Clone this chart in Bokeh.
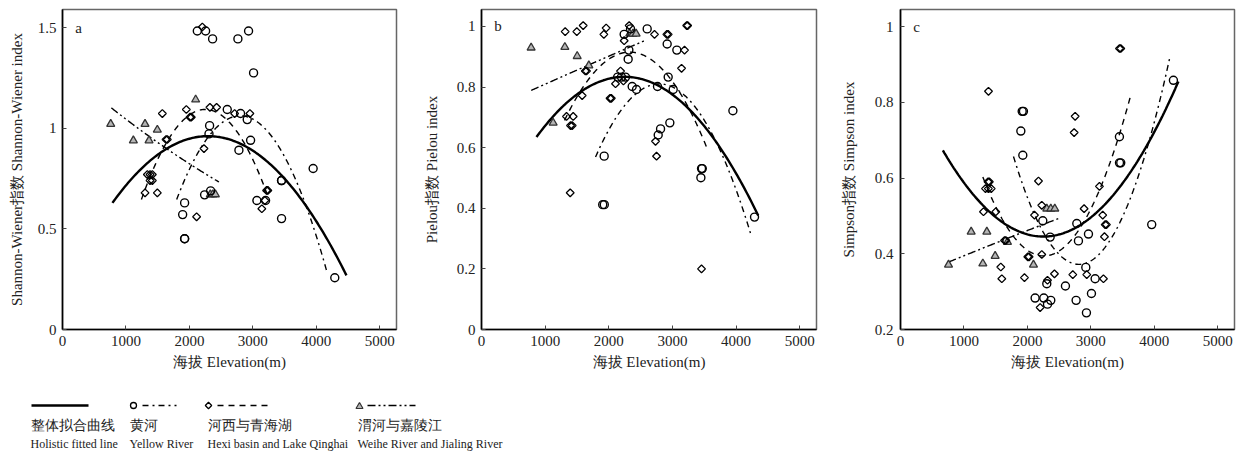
import numpy as np
from bokeh.plotting import figure
from bokeh.models import Range1d, FixedTicker, NumeralTickFormatter
from bokeh.layouts import column, row
from bokeh.embed import file_html
from bokeh.resources import INLINE
from bokeh.core.properties import value

FONT = "Liberation Serif"

# ---------------- data: panel a (Shannon-Wiener) ----------------
a_yellow_x = [2125, 2256, 2366, 2765, 2933, 3012, 2597, 2807, 2912, 2319, 2309, 2965, 2781,
              3453, 3453, 3951, 1925, 1894, 1925, 1925, 2240, 2335, 3064, 3201, 3453, 4292]
a_yellow_y = [1.483, 1.483, 1.444, 1.444, 1.483, 1.275, 1.093, 1.073, 1.043, 1.013, 0.972, 0.940, 0.891,
              0.740, 0.740, 0.800, 0.629, 0.571, 0.451, 0.451, 0.669, 0.689, 0.641, 0.641, 0.551, 0.257]
a_hexi_x = [2204, 1574, 1952, 2010, 2030, 2324, 2429, 2713, 2954, 2230, 1632, 1652, 1338, 1380,
            1416, 1380, 1416, 1301, 1495, 2114, 3217, 3237, 3190, 3142]
a_hexi_y = [1.503, 1.073, 1.093, 1.055, 1.055, 1.104, 1.104, 1.073, 1.073, 0.899, 0.944, 0.944, 0.770, 0.770,
            0.770, 0.740, 0.740, 0.679, 0.679, 0.560, 0.691, 0.691, 0.641, 0.600]
a_weihe_x = [760, 1117, 1301, 1364, 1495, 2099, 2330, 2370, 2410]
a_weihe_y = [1.021, 0.939, 1.021, 0.939, 0.992, 1.142, 0.671, 0.671, 0.671]
# fitted curves: start, middle, end points
a_fit_all_x, a_fit_all_y = [787, 2230, 4476], [0.629, 0.960, 0.269]
a_fit_yellow_x, a_fit_yellow_y = [1800, 3095, 4172], [0.646, 1.026, 0.282]
a_fit_hexi_x, a_fit_hexi_y = [1244, 2283, 3227], [0.646, 1.093, 0.671]
a_fit_weihe_x, a_fit_weihe_y = [771, 1626, 2466], [1.101, 0.902, 0.733]

# ---------------- data: panel b (Pielou) ----------------
b_yellow_x = [2604, 2342, 2242, 2918, 3070, 2316, 2305, 2140, 2200, 2263, 2368, 2436, 2766, 2934,
              3013, 2960, 2814, 2777, 1928, 3951, 3458, 3470, 3448, 1905, 1930, 4291]
b_yellow_y = [0.992, 0.992, 0.974, 0.942, 0.922, 0.922, 0.892, 0.833, 0.833, 0.833, 0.802, 0.792, 0.802, 0.833,
              0.792, 0.682, 0.662, 0.642, 0.572, 0.722, 0.531, 0.531, 0.501, 0.412, 0.412, 0.371]
b_hexi_x = [1315, 1498, 1598, 1959, 1923, 2321, 2242, 2719, 2913, 2934, 3225, 3240, 3191, 3144, 2185,
            1632, 1650, 2106, 2230, 2020, 2040, 1582, 1336, 1441, 1399, 1425, 2735, 2751, 1394, 3458]
b_hexi_y = [0.983, 0.983, 1.003, 0.995, 0.974, 1.003, 0.953, 0.974, 0.974, 0.974, 1.003, 1.003, 0.922, 0.862, 0.853,
            0.853, 0.853, 0.811, 0.820, 0.763, 0.763, 0.772, 0.703, 0.703, 0.673, 0.673, 0.621, 0.572, 0.451, 0.200]
b_weihe_x = [780, 1310, 1504, 1687, 1126, 2330, 2380, 2430]
b_weihe_y = [0.930, 0.932, 0.902, 0.871, 0.682, 0.976, 0.976, 0.976]
b_fit_all_x, b_fit_all_y = [864, 2342, 4349], [0.635, 0.833, 0.376]
b_fit_yellow_x, b_fit_yellow_y = [1792, 2945, 4239], [0.569, 0.805, 0.310]
b_fit_hexi_x, b_fit_hexi_y = [1305, 2290, 3560], [0.690, 0.915, 0.590]
b_fit_weihe_x, b_fit_weihe_y = [781, 1609, 2551], [0.789, 0.866, 0.952]

# ---------------- data: panel c (Simpson) ----------------
c_yellow_x = [1918, 1938, 1897, 1928, 3451, 3452, 3472, 4302, 2243, 2779, 2963, 2805, 2359, 3960, 2921,
              2306, 3068, 2600, 3010, 2122, 2259, 2369, 2317, 2768, 2931]
c_yellow_y = [0.776, 0.776, 0.724, 0.660, 0.709, 0.640, 0.640, 0.858, 0.487, 0.480, 0.452, 0.434, 0.444, 0.477, 0.364,
              0.321, 0.334, 0.315, 0.295, 0.283, 0.283, 0.277, 0.267, 0.277, 0.244]
c_hexi_x = [3452, 3472, 1387, 2753, 2737, 2175, 3136, 1380, 1400, 1340, 1385, 1430, 2227, 2112, 1308, 1502,
            2894, 3188, 3226, 3246, 3215, 1640, 1660, 2007, 2027, 2227, 1581, 1597, 1954, 2427, 2317, 2716,
            2936, 3199, 2201]
c_hexi_y = [0.942, 0.942, 0.829, 0.763, 0.720, 0.592, 0.578, 0.590, 0.590, 0.572, 0.572, 0.572, 0.528, 0.502, 0.511, 0.511,
            0.519, 0.502, 0.477, 0.477, 0.445, 0.435, 0.435, 0.392, 0.392, 0.398, 0.365, 0.334, 0.337, 0.347, 0.330, 0.345,
            0.345, 0.334, 0.258]
c_weihe_x = [757, 1114, 1361, 1492, 1298, 1686, 2096, 2306, 2369, 2432]
c_weihe_y = [0.371, 0.458, 0.458, 0.394, 0.374, 0.431, 0.371, 0.519, 0.519, 0.519]
c_fit_all_x, c_fit_all_y = [668, 2332, 4381], [0.673, 0.446, 0.855]
c_fit_yellow_x, c_fit_yellow_y = [1781, 2805, 4249], [0.657, 0.372, 0.921]
c_fit_hexi_x, c_fit_hexi_y = [1298, 2200, 3630], [0.603, 0.395, 0.819]
c_fit_weihe_x, c_fit_weihe_y = [757, 1676, 2490], [0.378, 0.440, 0.493]

x_ticks = [0, 1000, 2000, 3000, 4000, 5000]
x_label = "海拔 Elevation(m)"
legend_cn = ["整体拟合曲线", "黄河", "河西与青海湖", "渭河与嘉陵江"]
legend_en = ["Holistic fitted line", "Yellow River", "Hexi basin and Lake Qinghai", "Weihe River and Jialing River"]

DASH_YELLOW = "6 4 2 4"
DASH_HEXI = "6 5"
DASH_WEIHE = "8 3 2 3 2 3"
TRI_LINE, TRI_FILL = "#333333", "#b5b5b5"


def curve(xs, ys):
    coef = np.polyfit(xs, ys, 2)
    xx = np.linspace(xs[0], xs[-1], 150)
    return xx, np.polyval(coef, xx)


def panel(width, left, right, yr, yticks, ylabel, letter, letter_xy, tick_standoff, label_standoff,
          yellow, hexi, weihe, fits):
    p = figure(width=width, height=388, x_range=Range1d(0, 5265), y_range=Range1d(*yr),
               output_backend="svg", toolbar_location=None,
               min_border_left=left, min_border_right=right, min_border_top=9, min_border_bottom=59)
    p.grid.visible = False
    p.outline_line_color = "#666666"
    p.outline_line_width = 1.5
    p.background_fill_color = "white"
    p.border_fill_color = "white"
    for ax in (p.xaxis[0], p.yaxis[0]):
        ax.axis_line_width = 1.6
        ax.axis_line_color = "black"
        ax.major_tick_in = 4
        ax.major_tick_out = 0
        ax.major_tick_line_color = "#444444"
        ax.minor_tick_line_color = None
        ax.major_label_text_font = FONT
        ax.major_label_text_font_size = "15px"
        ax.major_label_text_color = "#222222"
        ax.axis_label_text_font = FONT
        ax.axis_label_text_font_size = "15px"
        ax.axis_label_text_font_style = "normal"
        ax.axis_label_text_color = "#222222"
    p.xaxis.ticker = FixedTicker(ticks=x_ticks)
    p.xaxis.major_label_standoff = 6
    p.xaxis.axis_label = x_label
    p.xaxis.axis_label_standoff = 5
    p.yaxis.ticker = FixedTicker(ticks=yticks)
    p.yaxis.formatter = NumeralTickFormatter(format="0.[0]")
    p.yaxis.major_label_standoff = tick_standoff
    p.yaxis.axis_label = ylabel
    p.yaxis.axis_label_standoff = label_standoff

    fa, fy, fh, fw = fits
    for (xs, ys), dash in ((fy, DASH_YELLOW), (fh, DASH_HEXI), (fw, DASH_WEIHE)):
        xx, yy = curve(xs, ys)
        p.line(xx, yy, line_color="black", line_width=1.4, line_dash=dash)
    xx, yy = curve(*fa)
    p.line(xx, yy, line_color="black", line_width=2.4)

    p.scatter(weihe[0], weihe[1], marker="triangle", size=8, line_color=TRI_LINE, line_width=1.3,
              fill_color=TRI_FILL)
    p.scatter(hexi[0], hexi[1], marker="square", angle=np.pi / 4, size=5.5, line_color="black",
              line_width=1.3, fill_color=None)
    p.scatter(yellow[0], yellow[1], marker="circle", size=8, line_color="black", line_width=1.4,
              fill_color=None)
    p.text(x=[letter_xy[0]], y=[letter_xy[1]], text=[letter], text_font=value(FONT),
           text_font_size="15px", text_color="#222222", text_baseline="middle", text_align="left")
    return p


pa = panel(410, 62, 14, (0, 1.59), [0, 0.5, 1, 1.5], "Shannon-Wiener指数 Shannon-Wiener index", "a",
           (200, 1.5), 6, 10,
           (a_yellow_x, a_yellow_y), (a_hexi_x, a_hexi_y), (a_weihe_x, a_weihe_y),
           ((a_fit_all_x, a_fit_all_y), (a_fit_yellow_x, a_fit_yellow_y),
            (a_fit_hexi_x, a_fit_hexi_y), (a_fit_weihe_x, a_fit_weihe_y)))
pb = panel(420, 71, 14, (0, 1.056), [0, 0.2, 0.4, 0.6, 0.8, 1], "Pielou指数 Pielou index", "b",
           (200, 1.0), 6, 14,
           (b_yellow_x, b_yellow_y), (b_hexi_x, b_hexi_y), (b_weihe_x, b_weihe_y),
           ((b_fit_all_x, b_fit_all_y), (b_fit_yellow_x, b_fit_yellow_y),
            (b_fit_hexi_x, b_fit_hexi_y), (b_fit_weihe_x, b_fit_weihe_y)))
pc = panel(408, 70, 4, (0.2, 1.045), [0.2, 0.4, 0.6, 0.8, 1], "Simpson指数 Simpson index", "c",
           (200, 1.0), 7, 15,
           (c_yellow_x, c_yellow_y), (c_hexi_x, c_hexi_y), (c_weihe_x, c_weihe_y),
           ((c_fit_all_x, c_fit_all_y), (c_fit_yellow_x, c_fit_yellow_y),
            (c_fit_hexi_x, c_fit_hexi_y), (c_fit_weihe_x, c_fit_weihe_y)))

# ---------------- legend strip ----------------
lg = figure(width=1238, height=64, x_range=Range1d(0, 1238), y_range=Range1d(64, 0),
            output_backend="svg", toolbar_location=None, min_border=0)
lg.axis.visible = False
lg.grid.visible = False
lg.outline_line_color = None
sym_y = 17
item_x = [30, 129, 207, 357]
lg.line([31, 88], [sym_y, sym_y], line_color="black", line_width=2.4)
lg.scatter([133], [sym_y], marker="circle", size=6, line_color="black", line_width=1.3, fill_color=None)
lg.line([142, 176], [sym_y, sym_y], line_color="black", line_width=1.4, line_dash=DASH_YELLOW)
lg.scatter([208], [sym_y], marker="square", angle=np.pi / 4, size=4.5, line_color="black", line_width=1.3,
           fill_color=None)
lg.line([217, 267], [sym_y, sym_y], line_color="black", line_width=1.4, line_dash=DASH_HEXI)
lg.scatter([359], [sym_y + 1], marker="triangle", size=7, line_color=TRI_LINE, line_width=1.2,
           fill_color=TRI_FILL)
lg.line([367, 415], [sym_y, sym_y], line_color="black", line_width=1.4, line_dash=DASH_WEIHE)
lg.text(x=item_x, y=[37] * 4, text=legend_cn, text_font=value(FONT), text_font_size="14px",
        text_color="#222222", text_baseline="middle", text_align="left")
lg.text(x=item_x, y=[55] * 4, text=legend_en, text_font=value(FONT), text_font_size="12px",
        text_color="#222222", text_baseline="middle", text_align="left")

layout = column(row(pa, pb, pc), lg)
open("out.html", "w").write(file_html(layout, INLINE))
